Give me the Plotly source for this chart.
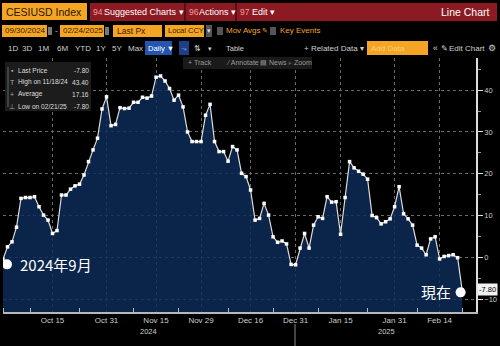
import plotly.graph_objects as go
import pandas as pd

# ---------------- data ----------------
holidays = ["2024-12-25", "2025-01-01"]
dates = [d for d in pd.bdate_range("2024-09-30", "2025-02-21").strftime("%Y-%m-%d") if d not in holidays]

values = [-0.5, 2.5, 3.7, 7.2, 14.1, 14.3, 14.3, 14.5, 12.1, 10.1,
          8.9, 5.7, 6.4, 14.9, 14.9, 16.3, 17.1, 17.5, 19.7, 22.9,
          25.7, 28.5, 35.5, 38.4, 31.5, 31.8,
          35.8, 35.6, 35.7, 37.1, 37.1, 38.3, 38.1, 38.6, 43.1, 43.4,
          42.2, 40.4, 37.6, 38.8, 36.0, 30.0, 27.7, 27.7, 27.7, 34.0,
          36.6, 27.7, 25.3, 25.3, 23.0, 26.5,
          25.7, 20.1, 19.3, 16.1, 8.9, 9.3, 12.9, 10.1, 4.9, 3.6,
          3.9, 3.2, -1.7, -1.8, 2.2, 5.7, 2.2, 7.7, 9.7, 9.3,
          14.5, 13.2, 13.3, 5.5, 14.3,
          22.9, 21.4, 20.6, 19.9, 18.7, 10.0, 9.5, 8.0, 8.5, 9.2,
          12.1, 16.9, 10.4, 9.2, 7.7, 2.9, 2.2, 0.6, 4.4, 4.9,
          -0.4, 0.2, 0.4, 0.6, -0.1, -7.8]

tick_dates = ["2024-10-15", "2024-10-31", "2024-11-15", "2024-11-29", "2024-12-16",
              "2024-12-31", "2025-01-15", "2025-01-31", "2025-02-14"]
tick_labels = ["Oct 15", "Oct 31", "Nov 15", "Nov 29", "Dec 16", "Dec 31", "Jan 15", "Jan 31", "Feb 14"]
minor_tick_dates = ["2024-09-30", "2024-10-08", "2024-10-23", "2024-11-08", "2024-11-22", "2024-12-09",
                    "2024-12-23", "2025-01-08", "2025-01-23", "2025-02-07", "2025-02-21"]
y_ticks = [-10, 0, 10, 20, 30, 40]
y_minor = [-5, 5, 15, 25, 35, 45]
legend_icons = ["\u25aa", "T", "+", "\u22a5"]
legend_labels = ["Last Price", "High on 11/18/24", "Average", "Low on 02/21/25"]
legend_values = ["-7.80", "43.40", "17.16", "-7.80"]
year_labels = ["2024", "2025"]

# ---------------- geometry ----------------
W, H = 500, 346
L, R, T, B = 3, 24, 58, 34
PW, PH = W - L - R, H - T - B
Y_MIN, Y_MAX = -13.1, 47.7

def px(x):
    return (x - L) / PW

def py(y):
    return (H - B - y) / PH

FONT = "Liberation Sans, Arial, sans-serif"
CJK = "Noto Sans CJK JP, Noto Sans CJK SC, sans-serif"
ORANGE = "#f5a524"

shapes = []
annotations = []

def rect(x0, y0, x1, y1, color):
    shapes.append(dict(type="rect", xref="paper", yref="paper", x0=px(x0), x1=px(x1),
                       y0=py(y1), y1=py(y0), fillcolor=color, line=dict(width=0), layer="above"))

def txt(x, y, s, size=8, color="#cccccc", anchor="left", family=FONT):
    annotations.append(dict(xref="paper", yref="paper", x=px(x), y=py(y), text=s, showarrow=False,
                            xanchor=anchor, yanchor="middle", borderpad=0,
                            font=dict(size=size, color=color, family=family)))

fig = go.Figure()

# baseline for the area fill (bottom of axis)
fig.add_trace(go.Scatter(x=dates, y=[Y_MIN] * len(dates), mode="lines", line=dict(width=0),
                         hoverinfo="skip", showlegend=False))
fig.add_trace(go.Scatter(x=dates, y=values, mode="lines+markers", fill="tonexty",
                         fillcolor="rgba(14,45,90,0.82)",
                         line=dict(color="#dcdcdc", width=1.2),
                         marker=dict(symbol="square", size=3.5, color="#ffffff"),
                         showlegend=False))

# ---------------- header UI ----------------
# row 1
rect(2, 3, 87, 20, ORANGE)
txt(5, 12, "CESIUSD Index", 10.5, "#2a1500")
rect(90, 3, 497, 21, "#8c1a22")
rect(184, 3, 186, 21, "#5a0e14")
rect(235, 3, 237, 21, "#5a0e14")
txt(92, 12, "94", 8.5, "#f29a9a")
txt(103, 12, "Suggested Charts \u25be", 9, "#ffffff")
txt(188, 12, "96", 8.5, "#f29a9a")
txt(198, 12, "Actions \u25be", 9, "#ffffff")
txt(239, 12, "97", 8.5, "#f29a9a")
txt(251, 12, "Edit \u25be", 9, "#ffffff")
txt(491, 12, "Line Chart", 10.5, "#ffffff", anchor="right")

# row 2
rect(2, 25, 47, 37, ORANGE)
txt(4, 31, "09/30/2024", 8, "#3a1c00")
rect(48, 27, 52, 35, "#777777")
txt(54, 31, "-", 8, "#cccccc")
rect(60, 25, 104, 37, ORANGE)
txt(62, 31, "02/24/2025", 8, "#3a1c00")
rect(105, 27, 109, 35, "#777777")
rect(113, 25, 162, 37, ORANGE)
txt(116, 31, "Last Px", 8.5, "#3a1c00")
rect(165, 25, 204, 37, ORANGE)
txt(167, 31, "Local CCY", 7.5, "#3a1c00")
rect(206, 25, 212, 37, "#555555")
txt(209, 31, "\u25be", 7, "#dddddd", anchor="center")
rect(217, 27, 223, 35, "#555555")
txt(225, 31, "Mov Avgs", 8, "#f0a030")
txt(261, 31, "\u270e", 7, "#f0a030")
rect(270, 27, 276, 35, "#555555")
txt(279, 31, "Key Events", 8, "#f0a030")

# row 3
for lab, x in zip(["1D", "3D", "1M", "6M", "YTD", "1Y", "5Y", "Max"], [7, 21, 37, 56, 74, 95, 111, 127]):
    txt(x, 48, lab, 8, "#cfcfcf")
rect(145, 41, 172, 55, "#2456b0")
txt(147, 48, "Daily \u25bc", 7.5, "#ffffff")
rect(179, 41, 189, 55, "#1d3f86")
txt(184, 48, "\u2933", 7, "#8fb4ff", anchor="center")
txt(193, 48, "\u21c5", 8, "#cfcfcf")
txt(207, 48, "\u25be", 7, "#cfcfcf")
txt(225, 48, "Table", 7.5, "#cfcfcf")
txt(303, 48, "+ Related Data \u25be", 8, "#cfcfcf")
rect(367, 41, 428, 55, ORANGE)
txt(370, 48, "Add Data", 8, "#fcd27a")
txt(432, 48, "\u00ab", 8.5, "#cfcfcf")
txt(440, 48, "\u270e", 7.5, "#cfcfcf")
txt(448, 48, "Edit Chart", 8, "#cfcfcf")
txt(487, 48, "\u2699", 8.5, "#cfcfcf")

# chart toolbar
rect(183, 57, 312, 69, "#1a1a1a")
txt(187, 63, "+ Track", 7, "#9a9a9a")
txt(225, 63, "\u2044 Annotate", 7, "#9a9a9a")
txt(259, 63, "\u25a4 News", 7, "#9a9a9a")
txt(287, 63, "\u2315 Zoom", 7, "#9a9a9a")

# legend box
rect(5, 62, 91, 111, "#1c1c1c")
shapes.append(dict(type="line", xref="paper", yref="paper", x0=px(8), x1=px(8), y0=py(67), y1=py(107),
                   line=dict(color="#666666", width=1)))
for i, (ic, lab, val) in enumerate(zip(legend_icons, legend_labels, legend_values)):
    yy = 70 + 12 * i
    txt(12, yy, ic, 7, "#aaaaaa", anchor="center")
    txt(17, yy, lab, 6.6, "#dddddd")
    txt(90, yy, val, 6.6, "#dddddd", anchor="right")

# year labels and separator
txt(148, 331, year_labels[0], 7.5, "#cccccc", anchor="center")
txt(386, 331, year_labels[1], 7.5, "#cccccc", anchor="center")
shapes.append(dict(type="line", xref="paper", yref="paper", x0=px(295), x1=px(295), y0=py(346), y1=py(324),
                   line=dict(color="#888888", width=1)))

# last value tag on right axis
annotations.append(dict(xref="paper", yref="y", x=1, y=values[-1], xanchor="left", xshift=1,
                        text=f"{values[-1]:.2f}", showarrow=False, bgcolor="#f2f2f2", borderpad=1,
                        font=dict(size=7.5, color="#000000", family=FONT)))

# start / now markers
shapes.append(dict(type="circle", xref="x", yref="y", xsizemode="pixel", ysizemode="pixel",
                   xanchor=dates[0], yanchor=values[0], x0=-1, x1=9, y0=-10, y1=0,
                   fillcolor="#ffffff", line=dict(width=0), layer="above"))
shapes.append(dict(type="circle", xref="x", yref="y", xsizemode="pixel", ysizemode="pixel",
                   xanchor=dates[-1], yanchor=values[-1], x0=-6.5, x1=3.5, y0=-7.5, y1=2.5,
                   fillcolor="#ffffff", line=dict(width=0), layer="above"))
annotations.append(dict(xref="x", yref="y", x=dates[0], y=values[0], xanchor="left", yanchor="middle",
                        xshift=15, yshift=-5, text="2024年9月", showarrow=False,
                        font=dict(size=15, color="#ffffff", family=CJK)))
annotations.append(dict(xref="x", yref="y", x=dates[-1], y=values[-1], xanchor="right", yanchor="middle",
                        xshift=-9, yshift=-2, text="現在", showarrow=False,
                        font=dict(size=15, color="#ffffff", family=CJK)))

fig.update_layout(
    width=W, height=H, margin=dict(l=L, r=R, t=T, b=B),
    paper_bgcolor="#000000", plot_bgcolor="#000000",
    showlegend=False, shapes=shapes, annotations=annotations,
    xaxis=dict(type="date", range=["2024-09-30", "2025-02-26 02:00"],
               rangebreaks=[dict(bounds=["sat", "mon"]), dict(values=holidays)],
               tickvals=tick_dates, ticktext=tick_labels, ticks="",
               tickfont=dict(size=8, color="#cccccc", family=FONT),
               showgrid=True, gridcolor="#6a6a6a", griddash="dot", gridwidth=1,
               showline=True, linecolor="#b8b8b8", linewidth=1.5, zeroline=False,
               minor=dict(tickvals=minor_tick_dates, ticks="inside", ticklen=4,
                          tickcolor="#b8b8b8", showgrid=False)),
    yaxis=dict(side="right", range=[Y_MIN, Y_MAX], tickvals=y_ticks,
               ticks="outside", ticklen=5, tickcolor="#dddddd",
               tickfont=dict(size=7.5, color="#cccccc", family=FONT),
               showgrid=True, gridcolor="#6a6a6a", griddash="dot", gridwidth=1,
               showline=True, linecolor="#dddddd", linewidth=1.5, zeroline=False,
               minor=dict(tickvals=y_minor, ticks="outside", ticklen=3,
                          tickcolor="#999999", showgrid=False)),
)

fig.write_html("out.html")
